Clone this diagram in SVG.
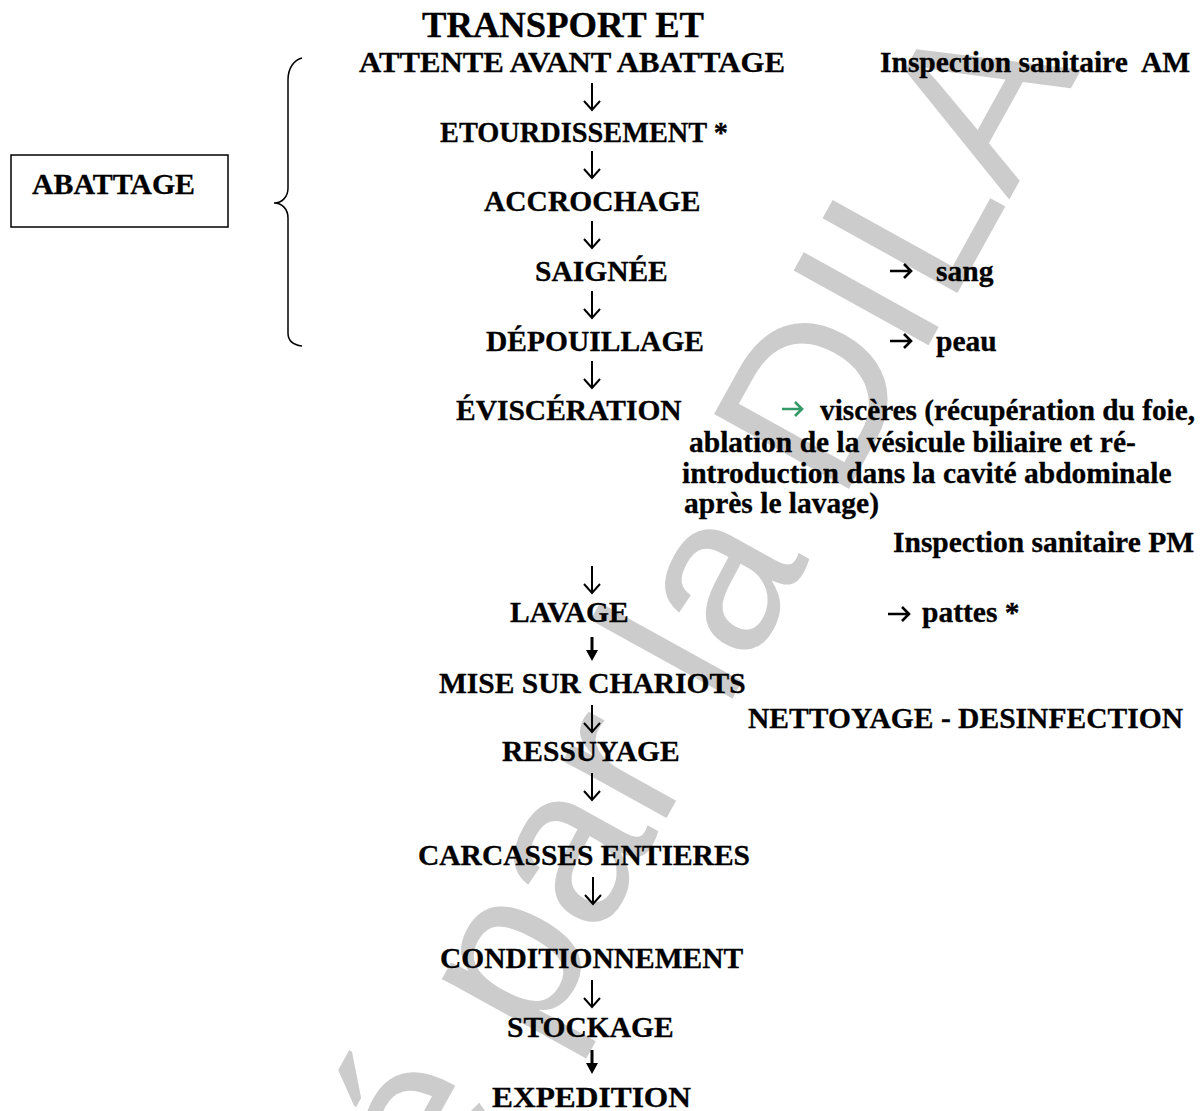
<svg xmlns="http://www.w3.org/2000/svg" width="1201" height="1111" viewBox="0 0 1201 1111">
<style>
.t{font-family:"Liberation Serif","Times New Roman",serif;font-weight:bold;font-size:29.5px;fill:#000;stroke:#000;stroke-width:0.3}
.wm{font-family:"Liberation Sans",Arial,sans-serif;font-size:224px;fill:#cccccc}
.dn{fill:none;stroke:#000;stroke-width:2}
.dnb{fill:none;stroke:#000;stroke-width:3}
.ra{fill:none;stroke:#000;stroke-width:2.6}
.ga{fill:none;stroke:#339966;stroke-width:2.6}
</style>
<rect x="0" y="0" width="1201" height="1111" fill="#fff"/>
<g id="watermark">
<text class="wm" transform="translate(172 1710) rotate(-61)">Diffusé par la DILA</text>
</g>
<g id="abattage">
<rect x="11" y="155" width="217" height="72" fill="none" stroke="#000" stroke-width="1.5"/>
<text class="t" x="32" y="194" textLength="163" lengthAdjust="spacingAndGlyphs">ABATTAGE</text>
<path d="M302,58 C294,60 288,68 288,80 L288,188 C288,197 282,203 274,203 C282,203 288,209 288,218 L288,333 C288,341 294,345 302,346" fill="none" stroke="#000" stroke-width="1.5"/>
</g>
<g id="n-transport">
<text class="t" x="422" y="37" style="font-size:35.5px" textLength="282" lengthAdjust="spacingAndGlyphs">TRANSPORT ET</text>
<text class="t" x="359" y="72" textLength="426" lengthAdjust="spacingAndGlyphs">ATTENTE AVANT ABATTAGE</text>
</g>
<g id="n-inspection-am"><text class="t" x="880" y="72" xml:space="preserve">Inspection sanitaire  AM</text></g>
<g id="n-etourdissement"><text class="t" x="440" y="142" textLength="288" lengthAdjust="spacingAndGlyphs">ETOURDISSEMENT *</text></g>
<g id="n-accrochage"><text class="t" x="484" y="211">ACCROCHAGE</text></g>
<g id="n-saignee"><text class="t" x="535" y="281">SAIGNÉE</text></g>
<g id="n-sang"><text class="t" x="936" y="281">sang</text></g>
<g id="n-depouillage"><text class="t" x="486" y="351">DÉPOUILLAGE</text></g>
<g id="n-peau"><text class="t" x="936" y="351">peau</text></g>
<g id="n-evisceration"><text class="t" x="456" y="420">ÉVISCÉRATION</text></g>
<g id="n-visceres">
<text class="t" x="820" y="420" textLength="375" lengthAdjust="spacingAndGlyphs">viscères (récupération du foie,</text>
<text class="t" x="689" y="452">ablation de la vésicule biliaire et ré-</text>
<text class="t" x="682" y="483">introduction dans la cavité abdominale</text>
<text class="t" x="684" y="513">après le lavage)</text>
</g>
<g id="n-inspection-pm"><text class="t" x="893" y="552">Inspection sanitaire PM</text></g>
<g id="n-lavage"><text class="t" x="510" y="622">LAVAGE</text></g>
<g id="n-pattes"><text class="t" x="922" y="622">pattes *</text></g>
<g id="n-mise"><text class="t" x="439" y="693">MISE SUR CHARIOTS</text></g>
<g id="n-nettoyage"><text class="t" x="748" y="728" textLength="435" lengthAdjust="spacingAndGlyphs">NETTOYAGE - DESINFECTION</text></g>
<g id="n-ressuyage"><text class="t" x="502" y="761">RESSUYAGE</text></g>
<g id="n-carcasses"><text class="t" x="418" y="865">CARCASSES ENTIERES</text></g>
<g id="n-conditionnement"><text class="t" x="440" y="968">CONDITIONNEMENT</text></g>
<g id="n-stockage"><text class="t" x="507" y="1037">STOCKAGE</text></g>
<g id="n-expedition"><text class="t" x="492" y="1107" textLength="199" lengthAdjust="spacingAndGlyphs">EXPEDITION</text></g>
<g id="connectors">
<path class="dn" d="M592,83 V110 M584,101 L592,110 L600,101"/>
<path class="dn" d="M592,151 V178 M584,169 L592,178 L600,169"/>
<path class="dn" d="M592,221 V248 M584,239 L592,248 L600,239"/>
<path class="dn" d="M592,291 V318 M584,309 L592,318 L600,309"/>
<path class="dn" d="M592,361 V388 M584,379 L592,388 L600,379"/>
<path class="dn" d="M592,566 V593 M584,584 L592,593 L600,584"/>
<path class="dnb" d="M592,637 V652"/><path d="M586,650 L598,650 L592,661 Z"/>
<path class="dn" d="M592,705 V732 M584,723 L592,732 L600,723"/>
<path class="dn" d="M592,773 V800 M584,791 L592,800 L600,791"/>
<path class="dn" d="M593,877 V904 M585,895 L593,904 L601,895"/>
<path class="dn" d="M592,980 V1007 M584,998 L592,1007 L600,998"/>
<path class="dnb" d="M592,1050 V1065"/><path d="M586,1063 L598,1063 L592,1074 Z"/>
<path class="ra" d="M890,271 H911 M904,264 L911,271 L904,278"/>
<path class="ra" d="M890,341 H911 M904,334 L911,341 L904,348"/>
<path class="ga" d="M782,409 H802 M795,402 L802,409 L795,416"/>
<path class="ra" d="M888,614 H909 M902,607 L909,614 L902,621"/>
</g>
</svg>
